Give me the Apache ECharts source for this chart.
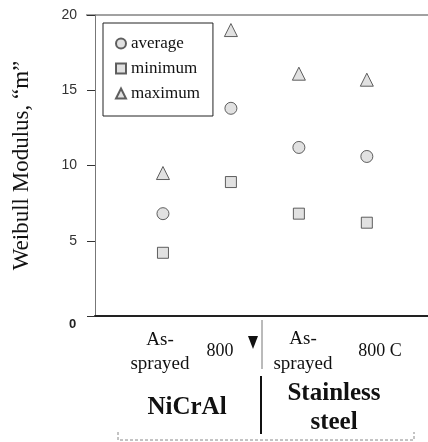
<!DOCTYPE html>
<html>
<head>
<meta charset="utf-8">
<script src="https://cdn.jsdelivr.net/npm/echarts@6/dist/echarts.min.js"></script>
<style>
  html, body { margin: 0; padding: 0; background: #fff; }
  #chart { width: 428px; height: 442px; }
</style>
</head>
<body>
<div id="chart"></div>
<script>
// positions of the four specimen groups on the x scale
var groupPos = [1, 2, 3, 4];
var groupLabels = ['As-\nsprayed', '800', 'As-\nsprayed', '800 C'];
var materials = ['NiCrAl', 'Stainless\nsteel'];
var seriesNames = ['average', 'minimum', 'maximum'];
var averageVals = [6.8, 13.8, 11.2, 10.6];
var minimumVals = [4.2, 8.9, 6.8, 6.2];
var maximumVals = [9.5, 19.0, 16.1, 15.7];
var yTicks = [0, 5, 10, 15, 20];

function pairs(vals) {
  return vals.map(function (v, i) { return [groupPos[i], v]; });
}

var serif = '"Liberation Serif", "DejaVu Serif", serif';
var sans = '"Liberation Sans", Arial, sans-serif';

var markerStyle = { color: '#dadada', borderColor: '#3a3a3a', borderWidth: 1 };

var chart = echarts.init(document.getElementById('chart'));
chart.setOption({
  animation: false,
  backgroundColor: '#fff',
  grid: { left: 95, right: 0, top: 15, bottom: 126 },
  legend: {
    orient: 'vertical',
    left: 103, top: 23,
    padding: [12, 13, 14, 12],
    itemGap: 8,
    itemWidth: 10, itemHeight: 10,
    backgroundColor: '#fff',
    borderColor: '#222', borderWidth: 1,
    textStyle: { fontFamily: serif, fontSize: 17, color: '#111' },
    data: seriesNames
  },
  xAxis: {
    type: 'value', min: 0, max: 4.9,
    splitLine: { show: false },
    axisTick: { show: false },
    axisLabel: { show: false },
    axisLine: { lineStyle: { color: '#222', width: 2 } }
  },
  yAxis: {
    type: 'value', min: yTicks[0], max: yTicks[yTicks.length - 1], interval: 5,
    name: 'Weibull Modulus, \u201cm\u201d',
    nameLocation: 'middle', nameGap: 62,
    nameTextStyle: { fontFamily: serif, fontSize: 23, color: '#111' },
    splitLine: { show: false },
    axisLine: { lineStyle: { color: '#777', width: 1 } },
    axisTick: { length: 8, lineStyle: { color: '#333' } },
    axisLabel: {
      margin: 18, fontFamily: sans, fontSize: 14, color: '#333',
      formatter: function (v) { return v === 0 ? '' : String(v); }
    }
  },
  series: [
    { name: 'average', type: 'scatter', symbol: 'circle', symbolSize: 12, itemStyle: markerStyle, data: pairs(averageVals) },
    { name: 'minimum', type: 'scatter', symbol: 'rect', symbolSize: 11, itemStyle: markerStyle, data: pairs(minimumVals) },
    { name: 'maximum', type: 'scatter', symbol: 'triangle', symbolSize: 13, itemStyle: markerStyle, data: pairs(maximumVals) }
  ],
  graphic: [
    // top frame line at 20
    { type: 'line', shape: { x1: 86, y1: 15, x2: 428, y2: 15 }, style: { stroke: '#444', lineWidth: 1 } },
    { type: 'text', left: 69, top: 318, style: { text: '0', font: 'bold 13px ' + sans, fill: '#222' } },
    // group tick labels under the axis
    { type: 'text', x: 160, y: 352, style: { text: groupLabels[0], font: '19px ' + serif, fill: '#111', textAlign: 'center', textVerticalAlign: 'middle', lineHeight: 24 } },
    { type: 'text', x: 220, y: 351, style: { text: groupLabels[1], font: '18px ' + serif, fill: '#111', textAlign: 'center', textVerticalAlign: 'middle' } },
    { type: 'polygon', shape: { points: [[248, 336], [258, 336], [253, 349]] }, style: { fill: '#111' } },
    { type: 'text', x: 303, y: 352, style: { text: groupLabels[2], font: '19px ' + serif, fill: '#111', textAlign: 'center', textVerticalAlign: 'middle', lineHeight: 25 } },
    { type: 'text', x: 380, y: 351, style: { text: groupLabels[3], font: '18px ' + serif, fill: '#111', textAlign: 'center', textVerticalAlign: 'middle' } },
    { type: 'line', shape: { x1: 262, y1: 320, x2: 262, y2: 369 }, style: { stroke: '#777', lineWidth: 1 } },
    // material names
    { type: 'text', x: 187, y: 408, style: { text: materials[0], font: 'bold 25px ' + serif, fill: '#111', textAlign: 'center', textVerticalAlign: 'middle' } },
    { type: 'text', x: 334, y: 408, style: { text: materials[1], font: 'bold 25px ' + serif, fill: '#111', textAlign: 'center', textVerticalAlign: 'middle', lineHeight: 29 } },
    { type: 'line', shape: { x1: 261, y1: 376, x2: 261, y2: 434 }, style: { stroke: '#111', lineWidth: 2 } },
    // faint bottom bracket
    { type: 'polyline', shape: { points: [[118, 432], [118, 440], [414, 440], [414, 432]] }, style: { stroke: '#888', lineWidth: 1, lineDash: [3, 2], fill: null } }
  ]
});
</script>
</body>
</html>
